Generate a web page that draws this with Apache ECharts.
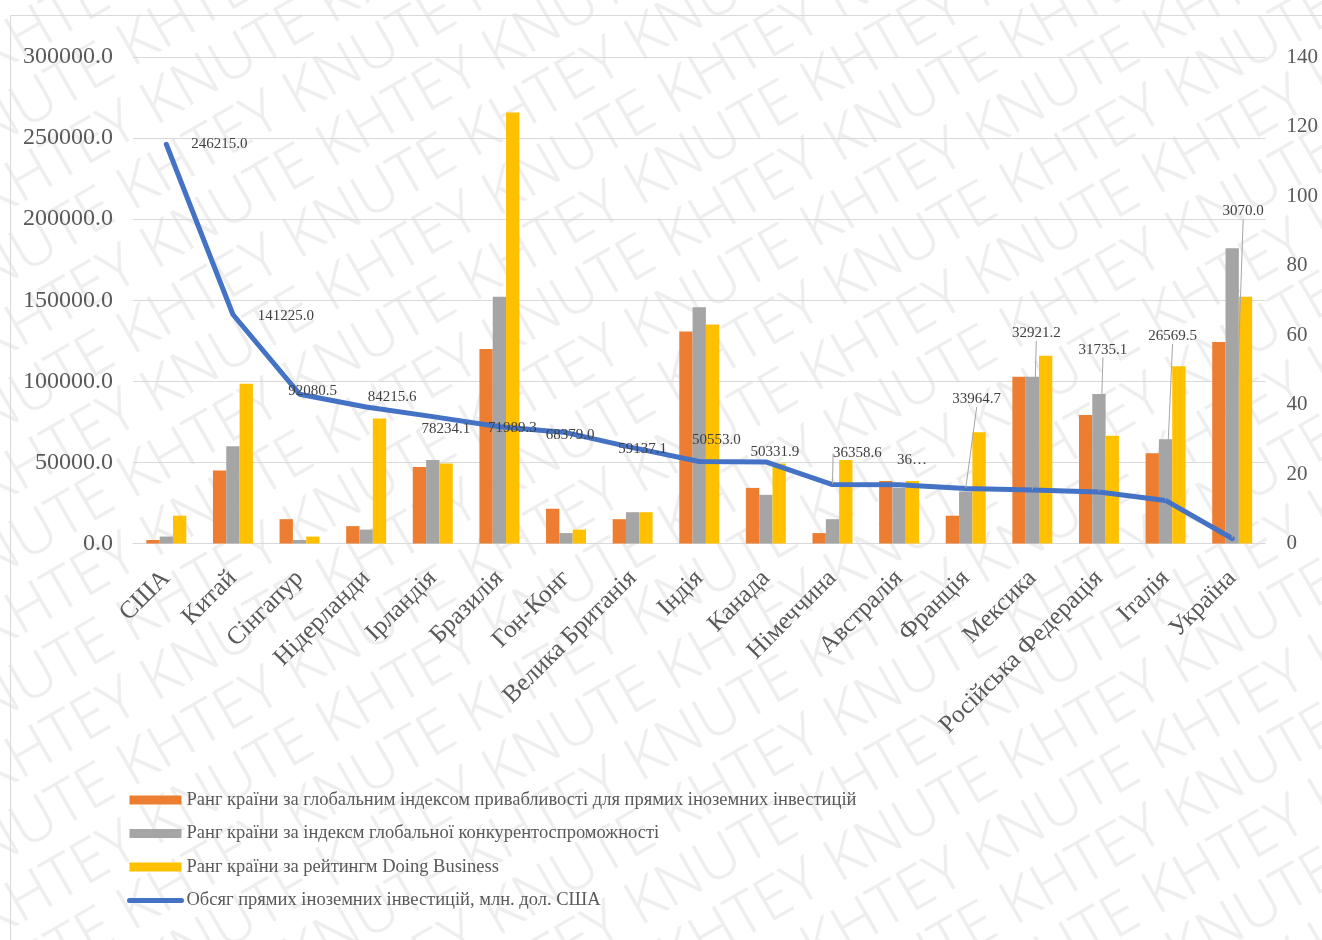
<!DOCTYPE html>
<html>
<head>
<meta charset="utf-8">
<script src="https://cdn.jsdelivr.net/npm/echarts@6/dist/echarts.min.js"></script>
<style>
html,body{margin:0;padding:0;background:#ffffff;}
#chart{width:1322px;height:940px;}
</style>
</head>
<body>
<div id="chart"></div>
<script>
// ---- DATA ----
const categories = ['США','Китай','Сінгапур','Нідерланди','Ірландія','Бразилія','Гон-Конг','Велика Британія','Індія','Канада','Німеччина','Австралія','Франція','Мексика','Російська Федерація','Італія','Україна'];
const fdiAttractivenessRank = [1,21,7,5,22,56,10,7,61,16,3,18,8,48,37,26,58];
const competitivenessRank = [2,28,1,4,24,71,3,9,68,14,7,16,15,48,43,30,85];
const doingBusinessRank = [8,46,2,36,23,124,4,9,63,23,24,18,32,54,31,51,71];
const fdiVolume = [246215.0,141225.0,92080.5,84215.6,78234.1,71989.3,68379.0,59137.1,50553.0,50331.9,36358.6,36200.0,33964.7,32921.2,31735.1,26569.5,3070.0];
const seriesNames = [
  'Ранг країни за глобальним індексом привабливості для прямих іноземних інвестицій',
  'Ранг країни за індексм глобальної конкурентоспроможності',
  'Ранг країни за рейтингм Doing Business',
  'Обсяг прямих іноземних інвестицій, млн. дол. США'
];
const leftAxisMax = 300000, leftAxisStep = 50000;
const rightAxisMax = 140, rightAxisStep = 20;

// ---- STYLE (label placement, not data) ----
const labelShift = [[53,0],[53,2],[13,-3],[26,-10],[13,12],[13,1],[4,2],[10,1],[17,-21],[9,-10],[25,-31],[13,-25],[11,-89],[4,-157],[4,-142],[7,-164],[11,-327]];
const leaderIdx = [10,12,13,14,15,16];
const truncatedIdx = [11];

const serif = '"Liberation Serif","Times New Roman",serif';
const colors = ['#ED7D31','#A5A5A5','#FFC000','#4472C4'];

const lineData = fdiVolume.map((v, i) => {
  const item = { value: v };
  if (leaderIdx.includes(i)) item.labelLine = { show: true };
  if (truncatedIdx.includes(i)) item.label = { width: 32, overflow: 'truncate', ellipsis: '…' };
  return item;
});

// background watermark (decoration)
const wm = [];
const ang = Math.PI / 6, ca = Math.cos(ang), sa = Math.sin(ang);
for (let r = 0; r < 30; r++) {
  const s = (r % 2) * 230 - 200;
  wm.push({
    type: 'text', silent: true, z: -100,
    x: -60 + s * ca, y: -20 + r * 72 - s * sa,
    rotation: ang,
    style: { text: 'KHTEY KNUTE '.repeat(8), fontSize: 60, fontFamily: 'Noto Sans', fontWeight: 300, fill: '#eeeeee' }
  });
}
wm.push({ type: 'rect', silent: true, z: -50, shape: { x: 10.5, y: 15.5, width: 1400, height: 1000 }, style: { fill: 'none', stroke: '#d9d9d9', lineWidth: 1 } });

const chart = echarts.init(document.getElementById('chart'), null, { renderer: 'canvas' });
chart.setOption({
  animation: false,
  backgroundColor: '#ffffff',
  graphic: wm,
  grid: { left: 133, right: 56.5, top: 57, bottom: 396.5, containLabel: false },
  legend: {
    orient: 'vertical', left: 122, top: 785,
    itemWidth: 52, itemHeight: 9, itemGap: 13.5,
    textStyle: { fontFamily: serif, fontSize: 18.5, color: '#595959', lineHeight: 20 },
    lineStyle: { width: 5, cap: 'round' },
    data: [
      { name: seriesNames[0], icon: 'rect' },
      { name: seriesNames[1], icon: 'rect' },
      { name: seriesNames[2], icon: 'rect' },
      { name: seriesNames[3], itemStyle: { opacity: 0 } }
    ]
  },
  xAxis: {
    type: 'category', data: categories,
    axisLine: { lineStyle: { color: '#d9d9d9', width: 1 } },
    axisTick: { show: false },
    axisLabel: { interval: 0, rotate: 45, margin: 31, fontFamily: serif, fontSize: 25, color: '#595959' }
  },
  yAxis: [
    {
      type: 'value', min: 0, max: leftAxisMax, interval: leftAxisStep,
      axisLine: { show: false }, axisTick: { show: false },
      splitLine: { lineStyle: { color: '#d9d9d9', width: 1 } },
      axisLabel: { margin: 20, fontFamily: serif, fontSize: 24, color: '#595959', formatter: v => v.toFixed(1) }
    },
    {
      type: 'value', min: 0, max: rightAxisMax, interval: rightAxisStep, position: 'right',
      axisLine: { show: false }, axisTick: { show: false }, splitLine: { show: false },
      axisLabel: { margin: 21, fontFamily: serif, fontSize: 21, color: '#595959' }
    }
  ],
  series: [
    { name: seriesNames[0], type: 'bar', yAxisIndex: 1, data: fdiAttractivenessRank, itemStyle: { color: colors[0] }, barGap: '0%', barCategoryGap: '40%', z: 2 },
    { name: seriesNames[1], type: 'bar', yAxisIndex: 1, data: competitivenessRank, itemStyle: { color: colors[1] }, barGap: '0%', barCategoryGap: '40%', z: 2 },
    { name: seriesNames[2], type: 'bar', yAxisIndex: 1, data: doingBusinessRank, itemStyle: { color: colors[2] }, barGap: '0%', barCategoryGap: '40%', z: 2 },
    {
      name: seriesNames[3], type: 'line', yAxisIndex: 0, data: lineData, z: 5,
      symbol: 'circle', symbolSize: 1, showSymbol: true,
      itemStyle: { color: colors[3] },
      lineStyle: { color: colors[3], width: 5, cap: 'round', join: 'round' },
      label: { show: true, position: 'inside', fontFamily: serif, fontSize: 15, color: '#404040', formatter: p => p.value.toFixed(1) },
      labelLine: { show: false, lineStyle: { color: '#a6a6a6', width: 1 } },
      labelLayout: p => ({ dx: labelShift[p.dataIndex][0], dy: labelShift[p.dataIndex][1] })
    }
  ]
});
</script>
</body>
</html>
